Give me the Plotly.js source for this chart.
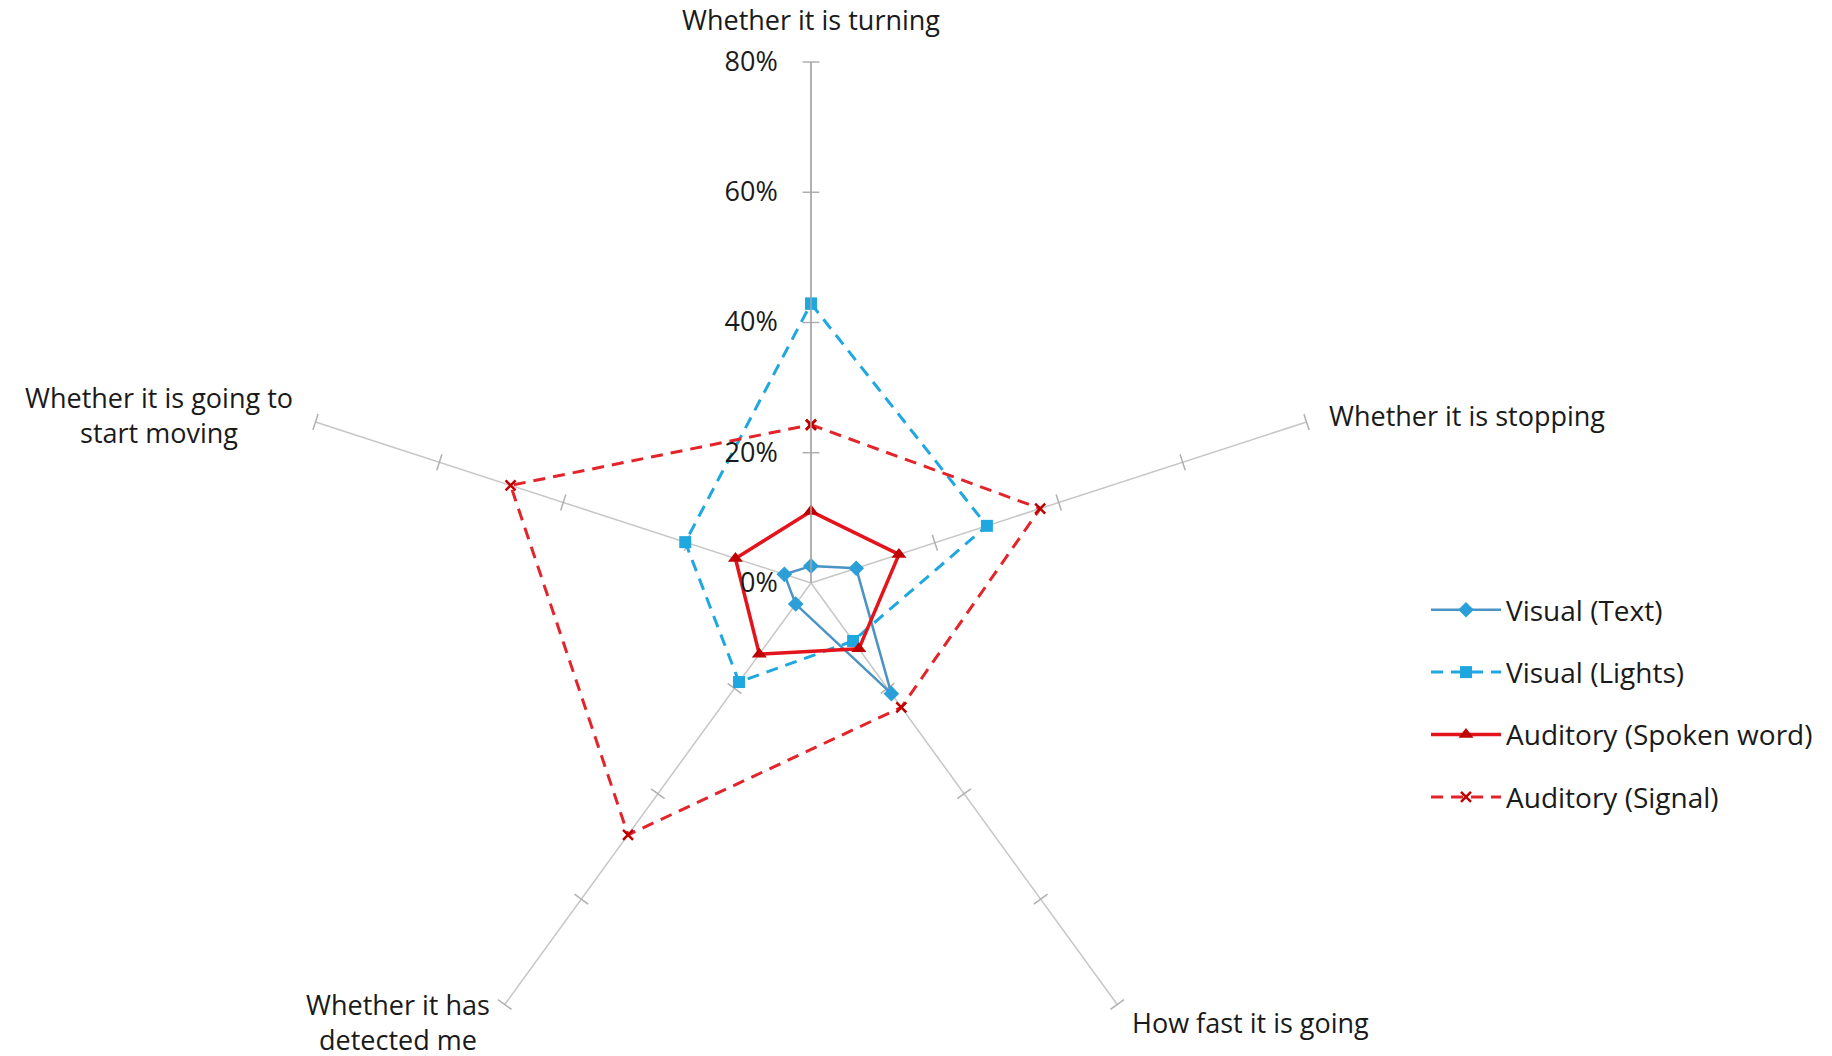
<!DOCTYPE html>
<html>
<head>
<meta charset="utf-8">
<script src="https://cdn.plot.ly/plotly-3.0.1.min.js"></script>
<style>
html, body { margin:0; padding:0; width:1832px; height:1056px; overflow:hidden; background:#fff; }
#chart { width:1832px; height:1166px; }
</style>
</head>
<body>
<div id="chart"></div>
<script>
// ---- data ----
const categories = ['Whether it is turning', 'Whether it is stopping', 'How fast it is going', 'Whether it has<br>detected me', 'Whether it is going to<br>start moving'];
const seriesNames = ['Visual (Text)', 'Visual (Lights)', 'Auditory (Spoken word)', 'Auditory (Signal)'];
const visualText = [2.6, 7.3, 21, 4, 4.3];
const visualLights = [42.9, 28.4, 11, 18.8, 20.3];
const auditorySpoken = [11, 14.2, 12.5, 13.5, 12.2];
const auditorySignal = [24.3, 37, 23.6, 47.8, 48.5];
const radialTicks = [0, 20, 40, 60, 80];
const radialTickText = ['0%', '20%', '40%', '60%', '80%'];

// ---- helpers ----
function closed(arr) { return arr.concat([arr[0]]); }

const FONT = 'Open Sans, Noto Sans, sans-serif';
const FS = 27;
const TXT = '#1a1a1a';
const W = 1832, H = 1166;
const cx = 811, cy = 583, R = 521;

const styles = [
  {color:'#4a93c4', dash:'solid', width:2.5, symbol:'diamond', msize:12, mcolor:'#2a9fd8'},
  {color:'#1fa7e0', dash:'12px,8px', width:3, symbol:'square', msize:12, mcolor:'#1fa7e0'},
  {color:'#e3141c', dash:'solid', width:3.5, symbol:'triangle-up', msize:13, mcolor:'#c00000'},
  {color:'#e3242b', dash:'12px,8px', width:3, symbol:'x-thin', msize:10, mcolor:'#c00000'}
];
const seriesData = [visualText, visualLights, auditorySpoken, auditorySignal];

const traces = seriesData.map((vals, i) => {
  const s = styles[i];
  return {
    type:'scatterpolar',
    mode:'lines+markers',
    name: seriesNames[i],
    r: closed(vals),
    theta: closed(categories),
    legendgroup: 'g' + i,
    line:{color:s.color, width:s.width, dash:s.dash},
    marker:{symbol:s.symbol, size:s.msize, color:s.mcolor, line:{color:s.mcolor, width: s.symbol==='x-thin' ? 2.5 : 0}},
    hoverinfo:'name+r+theta'
  };
});

// tick marks on every spoke (from radial tick values)
const tickR = [], tickTheta = [], tickAngle = [];
categories.forEach((c, k) => {
  radialTicks.slice(1).forEach(v => {
    tickR.push(v); tickTheta.push(c); tickAngle.push(72 * k - 180);
  });
});
traces.unshift({
  type:'scatterpolar', mode:'markers', r:tickR, theta:tickTheta, showlegend:false, hoverinfo:'skip',
  marker:{symbol:'line-ew', size:12, angle:tickAngle, color:'#b0b0b0', line:{color:'#b0b0b0', width:1.5}}
});

// category labels placed just beyond the end of each spoke
const GAP = 22;
const annotations = categories.map((c, k) => {
  const a = (90 - 72 * k) * Math.PI / 180;
  const px = cx + (R + GAP) * Math.cos(a);
  const py = cy - (R + GAP) * Math.sin(a);
  const cosA = Math.cos(a), sinA = Math.sin(a);
  return {
    xref:'paper', yref:'paper', x: px / W, y: (H - py) / H,
    text: c, showarrow:false, align:'center',
    xanchor: Math.abs(cosA) < 0.1 ? 'center' : (cosA > 0 ? 'left' : 'right'),
    yanchor: sinA > 0.9 ? 'bottom' : 'middle',
    font:{family:FONT, size:FS, color:TXT}
  };
});

const layout = {
  width:W, height:H,
  margin:{l:0, r:0, t:0, b:0},
  paper_bgcolor:'#fff',
  font:{family:FONT, size:FS, color:TXT},
  showlegend:true,
  legend:{
    x:1426/W, xanchor:'left', y:(H-585)/H, yanchor:'top',
    traceorder:'grouped', tracegroupgap:23,
    font:{family:FONT, size:28, color:TXT},
    itemwidth:70
  },
  annotations: annotations,
  polar:{
    domain:{x:[(cx-R)/W, (cx+R)/W], y:[(H-cy-R)/H, (H-cy+R)/H]},
    bgcolor:'#fff',
    radialaxis:{
      range:[0,80], tickvals:radialTicks, ticktext:radialTickText, angle:90, side:'counterclockwise', tickangle:90,
      showline:true, linecolor:'#a6a6a6', linewidth:1.5, showgrid:false,
      ticks:'outside', ticklen:23, tickcolor:'rgba(0,0,0,0)',
      tickfont:{family:FONT, size:FS, color:TXT}
    },
    angularaxis:{
      direction:'clockwise', rotation:90, showline:false, showgrid:true, gridcolor:'#c6c6c6', gridwidth:1.5,
      ticks:'', showticklabels:false
    }
  }
};

Plotly.newPlot('chart', traces, layout, {displayModeBar:false, staticPlot:true});
</script>
</body>
</html>
